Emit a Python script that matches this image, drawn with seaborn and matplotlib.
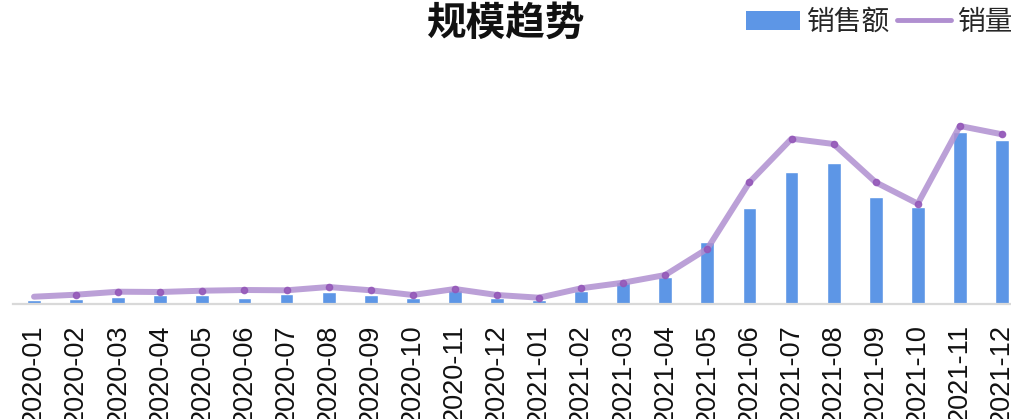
import numpy as np
import pandas as pd
import matplotlib
matplotlib.use("Agg")
import matplotlib.pyplot as plt
import seaborn as sns
from matplotlib.lines import Line2D
from matplotlib.patches import Patch

months = ["2020-01", "2020-02", "2020-03", "2020-04", "2020-05", "2020-06",
          "2020-07", "2020-08", "2020-09", "2020-10", "2020-11", "2020-12",
          "2021-01", "2021-02", "2021-03", "2021-04", "2021-05", "2021-06",
          "2021-07", "2021-08", "2021-09", "2021-10", "2021-11", "2021-12"]
sales = [4, 5, 7, 9, 9, 6, 10, 12, 9, 6, 14, 6,
         4, 13, 22, 27, 62, 96, 132, 141, 107, 97, 172, 164]
volume = [7.3, 9.3, 12.3, 12, 13.3, 14, 13.7, 17, 13.7, 9, 15, 9,
          6.3, 15.7, 21.3, 29, 55.3, 121.7, 165.3, 160, 121.7, 100.3, 178, 169.7]

title = "规模趋势"
sales_label = "销售额"
volume_label = "销量"

bar_color = "#5D96E6"
line_color = "#B08FD0"
dot_color = "#9356B8"

sns.set_theme(style="white")
plt.rcParams['font.family'] = ['Liberation Sans', 'Noto Sans CJK SC', 'DejaVu Sans']

df = pd.DataFrame({"month": months, "sales": sales, "volume": volume,
                   "pos": np.arange(len(months))})

W, H = 1011, 419
fig = plt.figure(figsize=(W / 100, H / 100), dpi=100)
ax = fig.add_axes([13 / W, 115 / H, 1010 / W, 240 / H])

sns.barplot(data=df, x="month", y="sales", color=bar_color, width=0.33,
            saturation=1, ax=ax)
sns.lineplot(data=df, x="pos", y="volume", color=line_color, linewidth=4.3,
             alpha=0.85, solid_capstyle="round", ax=ax)
ax.plot(df["pos"][1:], df["volume"][1:], "o", color=dot_color, markersize=4.5,
        alpha=0.85, zorder=5)

ax.set_xlim(-0.5, len(months) - 0.5)
ax.set_ylim(0, 240)
ax.set_xlabel("")
ax.set_ylabel("")
ax.set_yticks([])
ax.set_xticks(range(len(months)))
ax.set_xticklabels(months, rotation=90, fontsize=19.5, color="#111111",
                   family=['Liberation Sans', 'DejaVu Sans'])
ax.tick_params(axis="x", length=0, pad=14.5)
for s in ["top", "left", "right"]:
    ax.spines[s].set_visible(False)
ax.spines["bottom"].set_color("#d9d9d9")
ax.spines["bottom"].set_linewidth(1.6)

fig.text(0.5, 1 - 23.5 / H, title, ha="center", va="center", fontsize=28.5,
         fontweight="bold", family=['Noto Sans CJK SC', 'DejaVu Sans'],
         color="#111111")

handles = [Patch(facecolor=bar_color, edgecolor="none", label=sales_label),
           Line2D([0], [0], color=line_color, lw=3.5, solid_capstyle="round",
                  label=volume_label)]
leg = fig.legend(handles=handles, loc="upper left",
                 bbox_to_anchor=(746 / W, 1 - 7 / H), ncol=2, frameon=False,
                 handlelength=1.95, handleheight=0.65,
                 handletextpad=0.25, columnspacing=0.25, borderpad=0,
                 borderaxespad=0,
                 prop={'family': ['Noto Sans CJK SC', 'DejaVu Sans'], 'size': 20})

fig.savefig("out.png", dpi=100)
